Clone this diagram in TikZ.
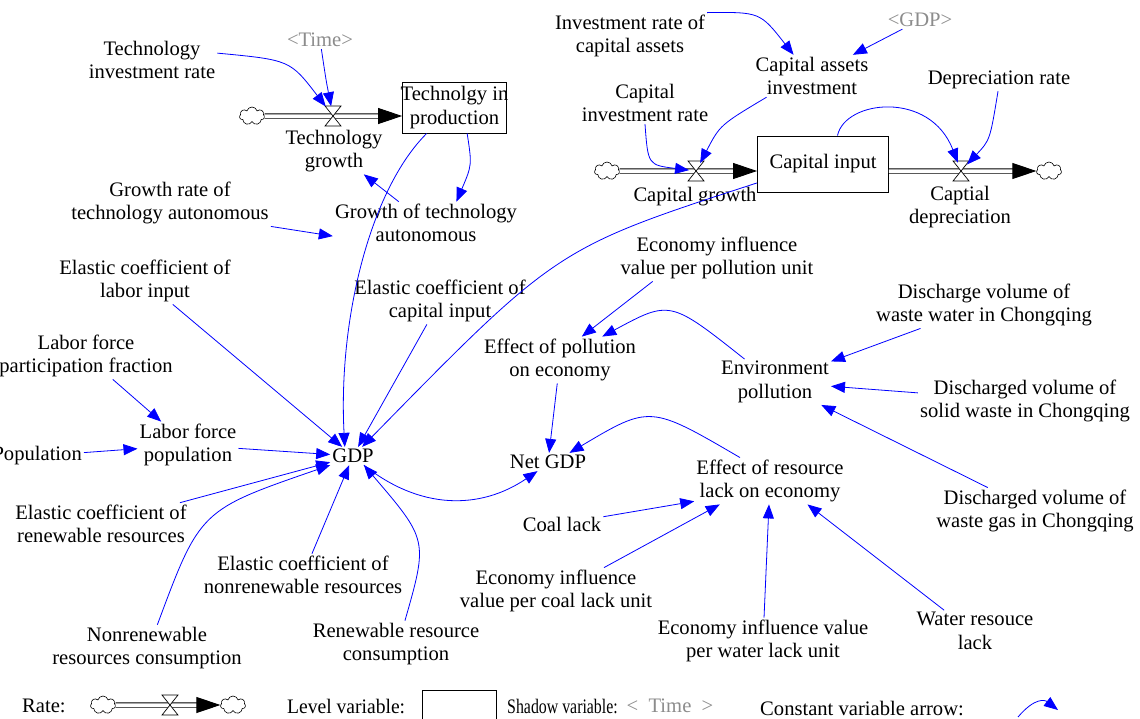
\documentclass[tikz,border=0pt]{standalone}
\usepackage{fontspec}
\setmainfont{Liberation Serif}
\usetikzlibrary{arrows.meta,shapes.symbols}

\begin{document}
\begin{tikzpicture}[x=1pt,y=-1pt]
    \tikzset{
        auxvar/.style={align=center, inner sep=2pt, font=\fontsize{20.6}{23.5}\selectfont},
        shadowvar/.style={auxvar, text=black!45},
        stockbox/.style={auxvar, draw, line width=0.9pt},
        infl/.style={blue, line width=0.8pt, -{Triangle[length=14pt,width=11pt]}},
        pipe/.style={double, double distance=3.5pt, line width=0.9pt},
        flowtip/.style={line width=0.9pt, -{Triangle[length=24pt,width=16pt]}},
        cloudsink/.style={cloud, cloud puffs=7, aspect=1.4, draw, line width=0.6pt, inner sep=0pt, minimum width=25pt, minimum height=18pt},
        valve/.pic={
            \draw[line width=0.7pt, fill=white] (-8,-10) -- (8,-10) -- (0,0) -- cycle (-8,10) -- (8,10) -- (0,0) -- cycle;
        }
    }
    \useasboundingbox (0,0) rectangle (1140,718);
    \clip (0,0) rectangle (1140,718);

    \node[shadowvar] (time) at (320,40) {<Time>};
    \node[auxvar] (tir) at (152,60) {Technology\\investment rate};
    \node[cloudsink] (c1) at (252,116) {};
    \coordinate (v1) at (333,116);
    \node[stockbox, inner xsep=-2pt, minimum height=51pt] (tech) at (454.5,107.5) {Technolgy in\\production};
    \node[auxvar] (tg) at (334,151) {Technology\\growth};
    \node[auxvar] (grta) at (170,203) {Growth rate of\\technology autonomous};
    \node[auxvar] (gta) at (426,223) {Growth of technology\\autonomous};

    \node[auxvar] (irca) at (630,36) {Investment rate of\\capital assets};
    \node[shadowvar] (gdps) at (920,20) {<GDP>};
    \node[auxvar] (cai) at (812,76) {Capital assets\\investment};
    \node[auxvar] (dr) at (999,80) {Depreciation rate};
    \node[auxvar] (cir) at (645,103) {Capital\\investment rate};
    \node[cloudsink] (c2) at (607,171) {};
    \coordinate (v2) at (696,171);
    \node[stockbox, minimum width=131pt, minimum height=56pt] (cap) at (823,164) {Capital input};
    \coordinate (v3) at (961,171);
    \node[cloudsink] (c3) at (1049,171) {};
    \node[auxvar] (cg) at (695,197) {Capital growth};
    \node[auxvar] (cd) at (960,207) {Captial\\depreciation};

    \node[auxvar] (elab) at (145,281) {Elastic coefficient of\\labor input};
    \node[auxvar] (ecc) at (440,301) {Elastic coefficient of\\capital input};
    \node[auxvar] (lfpf) at (86,356) {Labor force\\participation fraction};
    \node[auxvar, anchor=east] (pop) at (84,456) {Population};
    \node[auxvar] (lfp) at (188,445) {Labor force\\population};
    \node[auxvar] (gdp) at (353,456) {GDP};
    \node[auxvar] (ecr) at (101,524) {Elastic coefficient of\\renewable resources};
    \node[auxvar] (ecn) at (303,575) {Elastic coefficient of\\nonrenewable resources};
    \node[auxvar] (nrc) at (147,648) {Nonrenewable\\resources consumption};
    \node[auxvar] (rrc) at (396,644) {Renewable resource\\consumption};

    \node[auxvar] (eop) at (560,360) {Effect of pollution\\on economy};
    \node[auxvar] (eivpp) at (717,258) {Economy influence\\value per pollution unit};
    \node[auxvar] (envp) at (775,382) {Environment\\pollution};
    \node[auxvar] (dvww) at (984,305) {Discharge volume of\\waste water in Chongqing};
    \node[auxvar] (dvsw) at (1025,401) {Discharged volume of\\solid waste in Chongqing};
    \node[auxvar] (dvwg) at (1035,511) {Discharged volume of\\waste gas in Chongqing};
    \node[auxvar] (ngdp) at (548,462) {Net GDP};
    \node[auxvar] (erl) at (770,481) {Effect of resource\\lack on economy};
    \node[auxvar] (coal) at (562,524) {Coal lack};
    \node[auxvar] (eivcl) at (556,591) {Economy influence\\value per coal lack unit};
    \node[auxvar] (eivwl) at (763,641) {Economy influence value\\per water lack unit};
    \node[auxvar] (wrl) at (975,631) {Water resouce\\lack};

    \coordinate (t1) at (tech.west |- c1);
    \draw[pipe] (c1) -- ([xshift=-20pt]t1);
    \draw[flowtip] ([xshift=-22pt]t1) -- (t1);
    \pic at (v1) {valve};
    \coordinate (t2) at (cap.west |- c2);
    \draw[pipe] (c2) -- ([xshift=-20pt]t2);
    \draw[flowtip] ([xshift=-22pt]t2) -- (t2);
    \pic at (v2) {valve};
    \coordinate (t3) at (cap.east |- c3);
    \draw[pipe] (t3) -- ([xshift=-20pt]c3.west);
    \draw[flowtip] ([xshift=-22pt]c3.west) -- (c3.west);
    \pic at (v3) {valve};

    \foreach \a/\b in {elab/gdp, ecc/gdp, lfpf/lfp, pop/lfp, lfp/gdp, ecr/gdp, ecn/gdp, gdps/cai, eop/ngdp, dvww/envp, dvsw/envp, dvwg/envp, eivwl/erl, gta/tg, grta.south east/gta.188, eivpp.200/eop.47, coal.10/erl.-165, eivcl.26/erl.-155, wrl.146/erl.-32}
        \draw[infl] (\a) -- (\b);

    \draw[infl, shorten >=10pt] (time) .. controls (326,80) .. (v1);
    \draw[infl, shorten >=12pt] (tir.6) .. controls (290,60) .. (v1);
    \draw[infl] (tech.-64) .. controls (472,165) .. (gta.35);
    \draw[infl] (tech.-137) .. controls (370,190) and (338,320) .. (gdp.132);
    \draw[infl] (cap.-164) .. controls (557,248) .. (gdp.45);
    \draw[infl] (irca.north east) .. controls (760,12) .. (cai.131);
    \draw[infl, shorten >=9pt] (cai.-155) .. controls (720,125) .. (v2);
    \draw[infl, shorten >=7pt] (cir.south) .. controls (648,165) .. (v2);
    \draw[infl, shorten >=9pt] (cap.63) .. controls (845,100) and (930,90) .. (v3);
    \draw[infl, shorten >=9pt] (dr.-95) .. controls (990,140) .. (v3);
    \draw[infl] (nrc.66) .. controls (200,510) .. (gdp.south west);
    \draw[infl] (rrc.69) .. controls (428,540) .. (gdp.-40);
    \draw[infl] (gdp.-40) .. controls (420,510) and (480,510) .. (ngdp.-139);
    \draw[infl] (envp.143) .. controls (670,300) .. (eop.29);
    \draw[infl] (erl.142) .. controls (650,405) .. (ngdp.23);

    \node[auxvar, anchor=west] (lrate) at (20,706) {Rate:};
    \node[cloudsink] (lc1) at (103,705) {};
    \coordinate (lv) at (170,705);
    \node[cloudsink] (lc2) at (233,705) {};
    \draw[pipe] (lc1) -- ([xshift=-20pt]lc2.west);
    \draw[flowtip] ([xshift=-22pt]lc2.west) -- (lc2.west);
    \pic at (lv) {valve};
    \node[auxvar, anchor=west] (llevel) at (285,706) {\scalebox{0.95}[1]{Level variable:}};
    \node[draw, line width=0.9pt, inner sep=0pt, minimum width=74pt, minimum height=34pt, anchor=north west] (lbox) at (422,690) {};
    \node[auxvar, anchor=west] (lshadow) at (505,706) {\scalebox{0.77}[1]{Shadow variable:}};
    \node[shadowvar] (ltime) at (670,706) {<\enspace Time\enspace>};
    \node[auxvar, anchor=west] (lconst) at (758,708) {Constant variable arrow:};
    \coordinate (la) at (1018,717);
    \coordinate (lb) at (1058,710);
    \draw[infl] (la) .. controls (1035,697) and (1045,700) .. (lb);
\end{tikzpicture}
\end{document}
